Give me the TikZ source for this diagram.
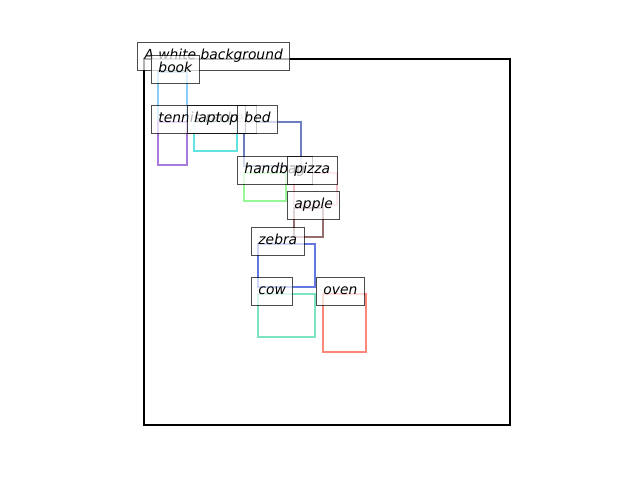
\documentclass[tikz,border=0pt]{standalone}
\usepackage{fontspec}
\setmainfont{DejaVu Sans}
\definecolor{cbook}{RGB}{135,205,248}
\definecolor{ctennis}{RGB}{168,122,222}
\definecolor{claptop}{RGB}{95,228,225}
\definecolor{cbed}{RGB}{110,125,192}
\definecolor{chandbag}{RGB}{150,248,150}
\definecolor{cpizza}{RGB}{245,190,200}
\definecolor{capple}{RGB}{150,110,110}
\definecolor{czebra}{RGB}{100,120,228}
\definecolor{ccow}{RGB}{125,228,195}
\definecolor{coven}{RGB}{250,135,120}
\tikzset{
  bbox/.style={line width=1.75pt},
  lbl/.style={anchor=base west, fill=white, fill opacity=0.7, draw=black, draw opacity=0.7,
    text opacity=1, inner xsep=5.04pt, inner ysep=0pt, text height=12.3pt, text depth=7.5pt,
    line width=0.72pt, font=\fontsize{10}{12}\selectfont\itshape}
}
\begin{document}
\begin{tikzpicture}[x=0.01in,y=-0.01in]
\useasboundingbox (0,0) rectangle (640,480);
% boxes
\draw[line width=1.44pt,black] (144,59) rectangle (510,425);
\draw[bbox,cbook] (158,72) rectangle (187,122);
\draw[bbox,ctennis] (158,122) rectangle (187,165);
\draw[bbox,claptop] (194,122) rectangle (237,151);
\draw[bbox,cbed] (244,122) rectangle (301,166);
\draw[bbox,chandbag] (244,173) rectangle (286,201);
\draw[bbox,cpizza] (294,173) rectangle (337,205);
\draw[bbox,capple] (294,208) rectangle (323,237);
\draw[bbox,czebra] (258,244) rectangle (315,287);
\draw[bbox,ccow] (258,294) rectangle (315,337);
\draw[bbox,coven] (323,294) rectangle (366,352);
% labels
\node[lbl] (lframe) at (137,60) {A white background};
\node[lbl] (lbook) at (151,73) {book};
\node[lbl] (ltennis) at (151,123) {tennis racket};
\node[lbl] (llaptop) at (187,123) {laptop};
\node[lbl] (lbed) at (237,123) {bed};
\node[lbl] (lhandbag) at (237,174) {handbag};
\node[lbl] (lpizza) at (287,174) {pizza};
\node[lbl] (lapple) at (287,209) {apple};
\node[lbl] (lzebra) at (251,245) {zebra};
\node[lbl] (lcow) at (251,295) {cow};
\node[lbl] (loven) at (316,295) {oven};
\end{tikzpicture}
\end{document}
